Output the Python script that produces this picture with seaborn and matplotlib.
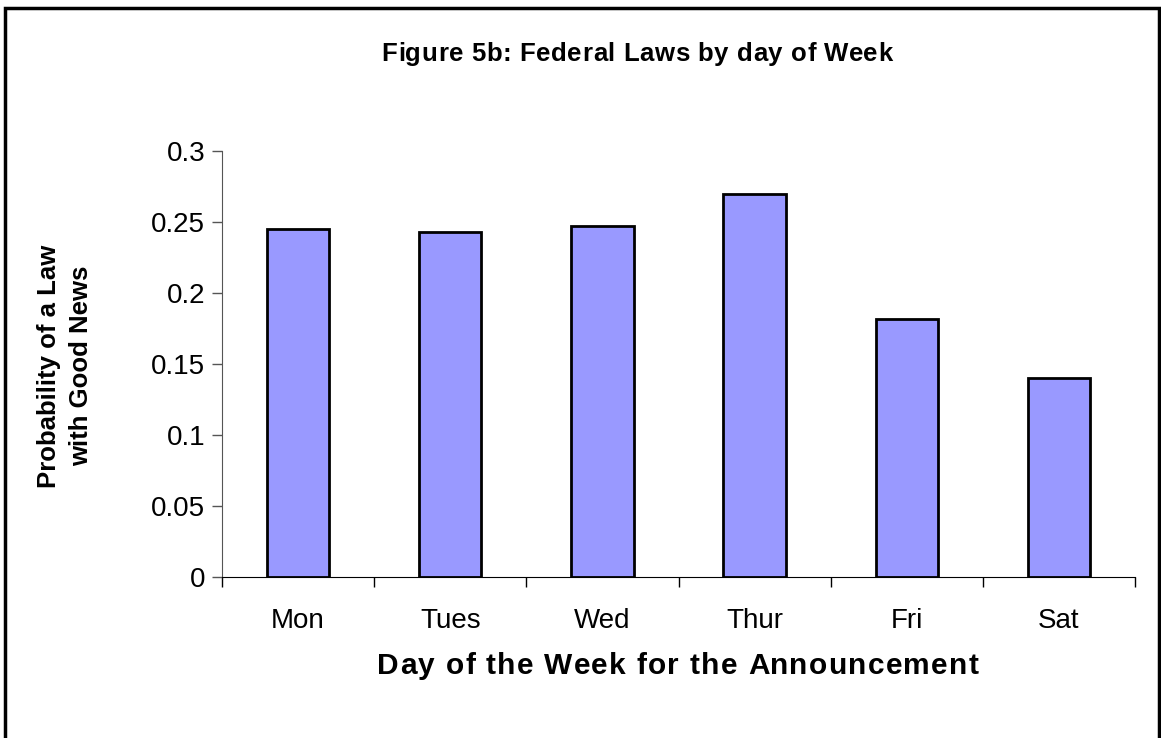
import pandas as pd
import matplotlib.pyplot as plt
import seaborn as sns
from matplotlib.patches import Rectangle

# data
days = ['Mon', 'Tues', 'Wed', 'Thur', 'Fri', 'Sat']
prob_good_news = [0.245, 0.243, 0.247, 0.270, 0.182, 0.140]
y_ticks = [0, 0.05, 0.1, 0.15, 0.2, 0.25, 0.3]
y_tick_labels = ['0', '0.05', '0.1', '0.15', '0.2', '0.25', '0.3']

df = pd.DataFrame({'Day': days, 'Probability': prob_good_news})

W, H = 1161, 738

sns.set_style('white')
plt.rcParams['font.family'] = ['Liberation Sans', 'DejaVu Sans']
plt.rcParams['text.color'] = 'black'
plt.rcParams['xtick.labelcolor'] = 'black'
plt.rcParams['ytick.labelcolor'] = 'black'

fig = plt.figure(figsize=(W / 100, H / 100), dpi=100)
ax = fig.add_axes([222 / W, 1 - 577 / H, (1135 - 222) / W, (577 - 151) / H])

sns.barplot(data=df, x='Day', y='Probability', ax=ax, color='#9999FF',
            saturation=1, width=0.41, edgecolor='black', linewidth=2)

ax.set_ylim(0, 0.3)
ax.set_xlim(-0.5, 5.5)
ax.set_yticks(y_ticks)
ax.set_yticklabels(y_tick_labels)
ax.tick_params(axis='y', labelsize=20, length=7, width=1, color='#555555', labelcolor='black',
               pad=5, left=True)
ax.tick_params(axis='x', labelsize=20, length=0, pad=22, labelcolor='black')

# category boundary ticks on x axis
ax.set_xticks([i - 0.5 for i in range(7)], minor=True)
ax.tick_params(axis='x', which='minor', length=7, width=1, color='black', bottom=True)

for side in ['top', 'right']:
    ax.spines[side].set_visible(False)
ax.spines['left'].set_color('#555555')
ax.spines['bottom'].set_color('black')
ax.set_xlabel('')
ax.set_ylabel('')


# Excel-style letter spaced bold text, placed char by char
def spaced_text(s, xc, y_base, size, gap):
    r = fig.canvas.get_renderer()

    def w(txt):
        t = fig.text(0, 0, txt, fontsize=size, fontweight='bold')
        width = t.get_window_extent(renderer=r).width
        t.remove()
        return width

    bar = w('|')
    offs = [w(s[:i] + '|') - bar for i in range(len(s))]
    total = w(s) + gap * (len(s) - 1)
    x0 = xc - total / 2
    for i, ch in enumerate(s):
        if ch == ' ':
            continue
        fig.text((x0 + offs[i] + gap * i) / W, 1 - y_base / H, ch, fontsize=size,
                 fontweight='bold', ha='left', va='baseline', color='black')


spaced_text('Figure 5b: Federal Laws by day of Week', 637, 61, 18.5, 0.6)
spaced_text('Day of the Week for the Announcement', 678, 674, 21.5, 1.3)

fig.text(65 / W, 1 - 366 / H, 'Probability of a Law\nwith Good News', rotation=90,
         ha='center', va='center', multialignment='center', fontsize=18.5, fontweight='bold',
         linespacing=1.4, color='black')

# outer frame
fig.patches.append(Rectangle((5 / W, -0.05), 1154 / W, 1.05 - 8 / H, transform=fig.transFigure,
                             fill=False, edgecolor='black', linewidth=2.5))

fig.savefig('out.png', dpi=100)
